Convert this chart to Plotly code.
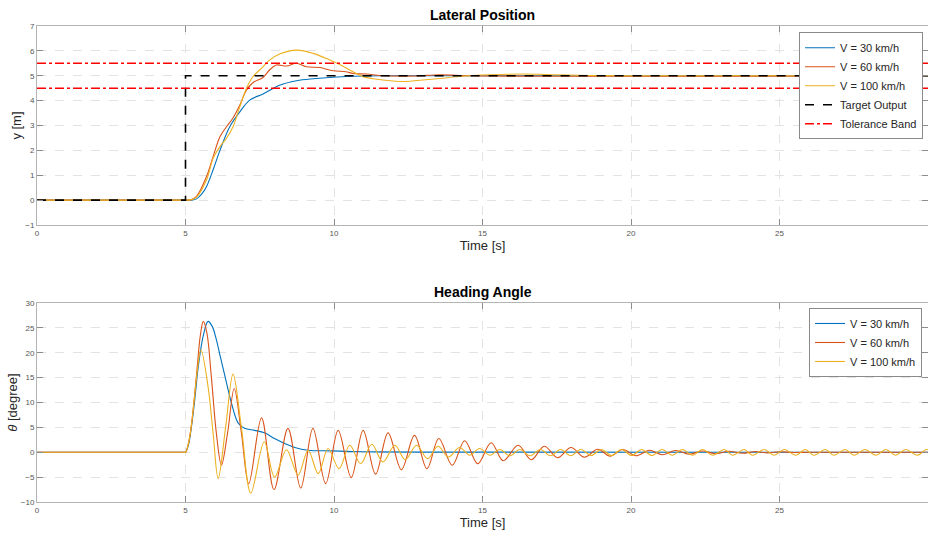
import plotly.graph_objects as go

# ---------------- data ----------------
# Lateral position y [m]
t_target = [0, 5, 5, 30]
y_target = [0, 0, 5, 5]
tol_upper = 5.5
tol_lower = 4.5

t_pos30 = [0, 4.95, 5.0, 5.2, 5.37, 5.55, 5.71, 5.93, 6.16, 6.49, 6.83, 7.16, 7.61, 8.17, 8.74, 9.3, 10.4, 11.5, 13, 30]
pos30 = [0, 0, 0, 0.0, 0.05, 0.25, 0.55, 1.22, 2.0, 2.95, 3.55, 4.02, 4.27, 4.62, 4.8, 4.88, 4.97, 5.0, 5.0, 5.0]

t_pos60 = [0, 4.95, 5.0, 5.2, 5.37, 5.71, 5.93, 6.16, 6.38, 6.6, 6.83, 7.05, 7.27, 7.61, 7.83, 8.06, 8.4,
           8.74, 9.07, 9.52, 9.97, 10.4, 10.64, 11.09, 11.54, 11.98, 12.77, 13.56, 14.5, 30]
pos60 = [0, 0, 0, 0.02, 0.15, 0.95, 1.75, 2.55, 2.95, 3.3, 3.82, 4.42, 4.72, 4.93, 5.23, 5.43, 5.39,
         5.5, 5.36, 5.33, 5.2, 5.16, 5.09, 5.07, 5.01, 4.99, 4.99, 5.04, 5.0, 5.0]

t_pos100 = [0, 4.95, 5.0, 5.2, 5.37, 5.71, 5.93, 6.16, 6.38, 6.6, 6.83, 7.05, 7.27, 7.61, 7.83, 8.17, 8.74,
            9.3, 9.86, 10.19, 10.64, 10.98, 11.32, 11.98, 12.43, 12.99, 13.56, 14.12, 14.68, 15.24, 16.36,
            17.48, 18.6, 20, 30]
pos100 = [0, 0, 0, 0.02, 0.12, 0.82, 1.68, 2.15, 2.49, 2.95, 3.76, 4.49, 4.96, 5.36, 5.63, 5.87, 6.03,
          5.9, 5.63, 5.45, 5.16, 4.96, 4.88, 4.79, 4.77, 4.83, 4.89, 4.96, 5.01, 5.04, 5.07,
          5.04, 5.01, 5.0, 5.0]

# Heading angle theta [degree]
t_head30 = [0, 4.95, 5.0, 5.1, 5.2, 5.32, 5.43, 5.6, 5.76, 5.9, 6.04, 6.18, 6.32, 6.55, 6.77, 6.99, 7.33,
            7.66, 8.0, 8.34, 8.68, 9.13, 9.9, 11, 13, 30]
head30 = [0, 0, 0, 1.5, 5.1, 11, 17.2, 23.5, 26.3, 25.3, 22.6, 19, 15.5, 9.8, 5.9, 4.8, 4.4,
          3.9, 2.75, 1.75, 0.95, 0.4, 0.27, 0.1, 0.02, 0]

t_head60 = [0, 4.95, 5.0, 5.1, 5.2, 5.3, 5.4, 5.5, 5.6, 5.72, 5.87, 6.04, 6.21, 6.42, 6.64, 6.88, 7.13,
            7.56, 7.98, 8.45, 8.88, 9.29, 9.72, 10.14, 10.58, 10.98, 11.4, 11.82, 12.27, 12.71, 13.13,
            13.53, 13.98, 14.4, 14.84, 15.29, 15.7, 16.2, 16.64, 17.08, 17.53, 17.98, 18.43, 18.88,
            19.3, 19.72, 20.17, 20.62, 21.05, 21.5, 21.95, 22.4, 22.85, 23.3, 23.75, 24.2, 24.6, 25.0,
            25.5, 26, 30]
head60 = [0, 0, 0, 1.8, 5.5, 11, 17.5, 23.5, 26.3, 24, 15.2, 3.8, -2.6, 4, 12.8, 4, -6.3,
          6.9, -7.5, 4.8, -7.2, 4.8, -6.3, 4.4, -5.1, 4.4, -4.4, 3.9, -3.5, 3.4, -3.3,
          2.75, -2.6, 2.3, -2.3, 1.9, -1.7, 1.4, -1.5, 1.2, -1.1, 0.95, -1.0, 0.6,
          -0.8, 0.55, -0.7, 0.4, -0.5, 0.35, -0.4, 0.25, -0.3, 0.2, -0.2, 0.15, -0.12, 0.1,
          -0.05, 0, 0]

t_head100 = [0, 4.95, 5.0, 5.1, 5.2, 5.3, 5.4, 5.52, 5.76, 5.93, 6.1, 6.35, 6.6, 6.88, 7.2, 7.65, 8.0,
             8.4, 8.79, 9.13, 9.47, 9.8, 10.17, 10.53, 10.9, 11.27, 11.65, 12.05, 12.4, 12.78, 13.15,
             13.5, 13.85, 14.23, 14.57, 14.9, 15.25, 15.58, 15.92, 16.26, 16.6, 16.95, 17.29, 17.63,
             17.97, 18.31, 18.66, 19.0, 19.34, 19.68, 20.02, 20.36, 20.7, 21.05, 21.39, 21.73, 22.07,
             22.41, 22.75, 23.14, 23.42, 23.81, 24.09, 24.49, 24.82, 25.16, 25.55, 25.87, 26.16,
             26.54, 26.83, 27.21, 27.51, 27.88, 28.24, 28.58, 28.91, 29.25, 29.64, 29.93, 30]
head100 = [0, 0, 0, 1.8, 5.5, 11, 16.5, 20.6, 13.2, 3.8, -5.3, 5, 15.7, 5.1, -8.2, 2.1, -5.0,
           0.5, -4.6, 0.4, -4.3, 0.75, -3.3, 1.4, -2.3, 1.6, -1.95, 1.4, -1.5, 1.4, -1.3,
           1.2, -0.95, 0.95, -0.6, 0.75, -0.6, 0.55, -0.7, 0.55, -0.7, 0.55, -0.7, 0.55,
           -0.7, 0.55, -0.65, 0.55, -0.65, 0.55, -0.65, 0.55, -0.65, 0.55, -0.6, 0.55, -0.6,
           0.55, -0.6, 0.55, -0.6, 0.55, -0.6, 0.55, -0.6, 0.55, -0.6, 0.55, -0.6,
           0.55, -0.6, 0.55, -0.6, 0.55, -0.6, 0.55, -0.6, 0.55, -0.6, 0.55, 0.5]

x_ticks = [0, 5, 10, 15, 20, 25, 30]
pos_ticks = [-1, 0, 1, 2, 3, 4, 5, 6, 7]
head_ticks = [-10, -5, 0, 5, 10, 15, 20, 25, 30]

# ---------------- styling ----------------
C30, C60, C100 = '#0072BD', '#D95319', '#EDB120'
FONT = 'Liberation Sans, Arial, Helvetica, sans-serif'
LW = 1.1

fig = go.Figure()

def line(x, y, color, name, xa, ya, leg, width=LW, dash='solid', shape='spline', show=True):
    fig.add_trace(go.Scatter(
        x=x, y=y, mode='lines', name=name, xaxis=xa, yaxis=ya, legend=leg, showlegend=show,
        line=dict(color=color, width=width, dash=dash, shape=shape, smoothing=1.0),
        hoverinfo='skip'))

line(t_pos30, pos30, C30, 'V = 30 km/h', 'x', 'y', 'legend')
line(t_pos60, pos60, C60, 'V = 60 km/h', 'x', 'y', 'legend')
line(t_pos100, pos100, C100, 'V = 100 km/h', 'x', 'y', 'legend')
line(t_target, y_target, '#000000', 'Target Output', 'x', 'y', 'legend', width=1.6, dash='dash', shape='linear')
line([0, 30, None, 0, 30], [tol_upper, tol_upper, None, tol_lower, tol_lower], '#FF0000',
     'Tolerance Band', 'x', 'y', 'legend', width=1.6, dash='dashdot', shape='linear')

line(t_head30, head30, C30, 'V = 30 km/h', 'x2', 'y2', 'legend2')
line(t_head60, head60, C60, 'V = 60 km/h', 'x2', 'y2', 'legend2')
line(t_head100, head100, C100, 'V = 100 km/h', 'x2', 'y2', 'legend2')

axis_common = dict(
    showline=True, linecolor='#b4b4b4', linewidth=1, mirror='allticks',
    ticks='inside', ticklen=6, tickcolor='#8c8c8c', tickwidth=1,
    showgrid=True, gridcolor='#e3e3e3', gridwidth=1, griddash='dash',
    zeroline=False, tickfont=dict(family=FONT, size=8, color='#555555'),
)

top_dom = [0.5819, 1.0]
bot_dom = [0.0, 0.4181]
TFONT = dict(family=FONT, size=13, color='#262626')

fig.update_layout(
    width=928, height=533,
    margin=dict(l=37, r=0, t=26, b=31),
    paper_bgcolor='white', plot_bgcolor='white',
    font=dict(family=FONT, color='#262626'),
    xaxis=dict(axis_common, domain=[0, 1], anchor='y', range=[0, 30], tickvals=x_ticks,
               title=dict(text='Time [s]', font=TFONT, standoff=3)),
    yaxis=dict(axis_common, domain=top_dom, anchor='x', range=[-1, 7], tickvals=pos_ticks,
               title=dict(text='y [m]', font=TFONT, standoff=0)),
    xaxis2=dict(axis_common, domain=[0, 1], anchor='y2', range=[0, 30], tickvals=x_ticks,
                title=dict(text='Time [s]', font=TFONT, standoff=3)),
    yaxis2=dict(axis_common, domain=bot_dom, anchor='x2', range=[-10, 30], tickvals=head_ticks,
                title=dict(text='<i>θ</i> [degree]', font=TFONT, standoff=0)),
    legend=dict(x=0.9944, xanchor='right', y=0.987, yanchor='top',
                bgcolor='white', bordercolor='#8a8a8a', borderwidth=1,
                font=dict(family=FONT, size=11, color='#262626'),
                itemwidth=30, tracegroupgap=0),
    legend2=dict(x=0.9933, xanchor='right', y=0.4076, yanchor='top',
                 bgcolor='white', bordercolor='#8a8a8a', borderwidth=1,
                 font=dict(family=FONT, size=11, color='#262626'),
                 itemwidth=30, tracegroupgap=0),
    annotations=[
        dict(text='<b>Lateral Position</b>', xref='paper', yref='paper', x=0.5, y=1.0231,
             xanchor='center', yanchor='middle', showarrow=False,
             font=dict(family=FONT, size=14, color='#000000')),
        dict(text='<b>Heading Angle</b>', xref='paper', yref='paper', x=0.5, y=0.4412,
             xanchor='center', yanchor='middle', showarrow=False,
             font=dict(family=FONT, size=14, color='#000000')),
    ],
)

fig.write_html('out.html')
